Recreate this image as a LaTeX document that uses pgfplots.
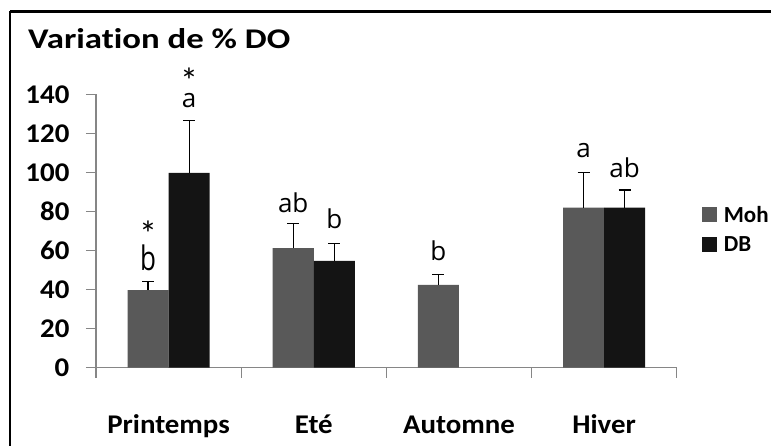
\documentclass[border=0pt]{standalone}
\usepackage{pgfplots}
\pgfplotsset{compat=1.18}
\usepackage{pgfplotstable}
\usepackage{fontspec}
\setmainfont{Carlito}[Ligatures=NoCommon]
\newfontfamily\letfont{Open Sans}
\definecolor{moh}{HTML}{595959}
\definecolor{db}{HTML}{141414}
\definecolor{axgray}{HTML}{868686}

\pgfplotstableread{
x y err
0 39.7 4.3
1 61.2 12.8
2 42.4 5.5
3 82.0 17.8
}\moh

\pgfplotstableread{
x y err
0 99.7 26.8
1 54.7 9.1
3 82.0 9.0
}\db

\begin{document}
\begin{tikzpicture}[x=1bp,y=1bp]
\useasboundingbox (0,0) rectangle (771,446);
\draw[line width=2.8bp] (10,434.5) -- (771,434.5);
\draw[line width=2.8bp] (10,0) -- (10,434.5);
\node[anchor=base west, xscale=1.22, font=\fontsize{28.5bp}{32bp}\selectfont\bfseries, inner sep=0pt] at (28,397) {Variation de \% DO};
\begin{axis}[
  at={(96bp,78.3bp)}, anchor=south west,
  scale only axis, width=580.7bp, height=273.4bp,
  xmin=-0.5, xmax=3.5, ymin=0, ymax=140,
  clip=false,
  axis x line*=bottom, axis y line*=left,
  axis line style={axgray, line width=1.2bp, -},
  tick align=outside,
  ytick={0,20,...,140},
  major tick length=10bp, minor tick length=10bp,
  ytick style={axgray, line width=1.2bp},
  xtick={0,1,2,3},
  xticklabels={Printemps, Eté, Automne, Hiver},
  minor xtick={-0.5,0.5,1.5,2.5,3.5},
  major x tick style={draw=none},
  minor x tick style={axgray, line width=1.2bp},
  /pgf/number format/assume math mode=true,
  ticklabel style={font=\fontsize{27bp}{32bp}\selectfont\bfseries, xscale=1.07},
  xticklabel style={anchor=base, yshift=-56bp},
  yticklabel style={anchor=east, xshift=-12bp},
  bar width=0.283,
  legend style={at={(1.043,0.5055)}, anchor=west, draw=none, fill=none,
    font=\fontsize{23bp}{26bp}\selectfont\bfseries, row sep=9bp, inner sep=0pt,
    cells={anchor=west}},
  legend image code/.code={\fill[#1] (0bp,-7bp) rectangle (15bp,8bp);},
  error bars/y dir=plus, error bars/y explicit,
  error bars/error bar style={black, line width=1.2bp},
  error bars/error mark options={black, line width=1.2bp, mark size=6bp, rotate=90},
]
\addplot[ybar, bar shift=0, fill=moh, draw=none] table[x expr=\thisrow{x}-0.1415, y=y, y error=err] {\moh};
\addlegendentry{\hspace{5bp}Moh}
\addplot[ybar, bar shift=0, fill=db, draw=none] table[x expr=\thisrow{x}+0.1415, y=y, y error=err] {\db};
\addlegendentry{\hspace{5bp}DB}

\begin{scope}[every node/.style={font=\letfont\fontsize{26bp}{30bp}\selectfont, inner sep=0pt}]
\node[yscale=1.3] at (axis cs:-0.1415,56.5) {b};
\node at (axis cs:0.1415,136.6) {a};
\node at (axis cs:0.8585,84.6) {ab};
\node at (axis cs:1.1415,76.1) {b};
\node at (axis cs:1.8585,59.8) {b};
\node at (axis cs:2.8585,111.0) {a};
\node at (axis cs:3.1415,102.3) {ab};
\end{scope}
\begin{scope}[every node/.style={font=\fontsize{36bp}{40bp}\selectfont, inner sep=0pt}]
\node at (axis cs:-0.1415,73.0) {\raisebox{-0.42em}[0.33em][0pt]{*}};
\node at (axis cs:0.1415,151.0) {\raisebox{-0.42em}[0.33em][0pt]{*}};
\end{scope}
\end{axis}
\end{tikzpicture}
\end{document}
